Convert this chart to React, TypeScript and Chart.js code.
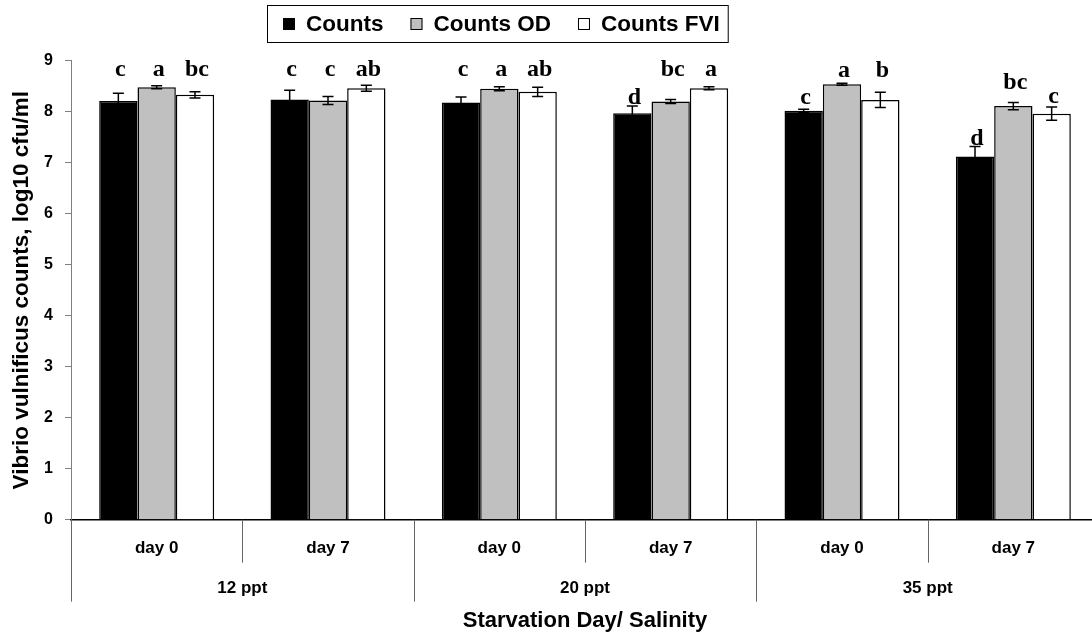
import React, { useEffect, useRef } from "react";
import { Chart, registerables } from "chart.js";

Chart.register(...registerables);

const dayLabels = ["day 0", "day 7", "day 0", "day 7", "day 0", "day 7"];
const salinityLabels = ["12 ppt", "20 ppt", "35 ppt"];
const seriesNames = ["Counts", "Counts OD", "Counts FVI"];
const seriesColors = ["#000000", "#c0c0c0", "#ffffff"];

const counts = [8.21, 8.24, 8.18, 7.97, 8.02, 7.12];
const countsOD = [8.48, 8.22, 8.45, 8.2, 8.54, 8.11];
const countsFVI = [8.33, 8.46, 8.39, 8.46, 8.23, 7.96];

const errCounts = [0.15, 0.18, 0.11, 0.14, 0.03, 0.2];
const errOD = [0.03, 0.08, 0.04, 0.04, 0.02, 0.07];
const errFVI = [0.06, 0.06, 0.09, 0.03, 0.15, 0.13];

const lettersCounts = ["c", "c", "c", "d", "c", "d"];
const lettersOD = ["a", "c", "a", "bc", "a", "bc"];
const lettersFVI = ["bc", "ab", "ab", "a", "b", "c"];

// baseline level of each significance letter, in axis units
const letterLevelCounts = [8.7, 8.7, 8.7, 8.16, 8.16, 7.34];
const letterLevelOD = [8.7, 8.7, 8.7, 8.7, 8.69, 8.44];
const letterLevelFVI = [8.7, 8.7, 8.7, 8.7, 8.69, 8.18];

const yTitle = "Vibrio vulnificus counts, log10 cfu/ml";
const xTitle = "Starvation Day/ Salinity";

const SANS = "'Liberation Sans', Arial, sans-serif";
const SERIF = "'Liberation Serif', 'Times New Roman', serif";

const errors = [errCounts, errOD, errFVI];
const letters = [lettersCounts, lettersOD, lettersFVI];
const letterLevels = [letterLevelCounts, letterLevelOD, letterLevelFVI];

const overlayPlugin = {
  id: "overlay",
  afterDatasetsDraw(chart: any) {
    const ctx = chart.ctx;
    const y = chart.scales.y;
    ctx.save();
    // error bars
    ctx.strokeStyle = "#000";
    ctx.lineWidth = 1.5;
    for (let d = 0; d < 3; d++) {
      const meta = chart.getDatasetMeta(d);
      const vals = chart.data.datasets[d].data as number[];
      meta.data.forEach((bar: any, i: number) => {
        const v = vals[i];
        const e = errors[d][i];
        const yt = y.getPixelForValue(v + e);
        const yb = y.getPixelForValue(v - e);
        const cw = 5.5;
        ctx.beginPath();
        ctx.moveTo(bar.x, yt);
        ctx.lineTo(bar.x, yb);
        ctx.moveTo(bar.x - cw, yt);
        ctx.lineTo(bar.x + cw, yt);
        ctx.moveTo(bar.x - cw, yb);
        ctx.lineTo(bar.x + cw, yb);
        ctx.stroke();
      });
    }
    // letters
    ctx.fillStyle = "#000";
    ctx.font = `bold 24px ${SERIF}`;
    ctx.textAlign = "center";
    ctx.textBaseline = "alphabetic";
    for (let d = 0; d < 3; d++) {
      const meta = chart.getDatasetMeta(d);
      meta.data.forEach((bar: any, i: number) => {
        ctx.fillText(letters[d][i], bar.x + 2, y.getPixelForValue(letterLevels[d][i]));
      });
    }
    ctx.restore();
  },
  afterDraw(chart: any) {
    const ctx = chart.ctx;
    const x = chart.scales.x;
    const area = chart.chartArea;
    const n = dayLabels.length;
    const step = x.getPixelForValue(1) - x.getPixelForValue(0);
    ctx.save();
    // dividers
    for (let i = 0; i <= n; i++) {
      const px = Math.round(x.getPixelForValue(0) - step / 2 + i * step) + 0.5;
      const long = i % 2 === 0;
      ctx.strokeStyle = "#666";
      ctx.lineWidth = 1;
      ctx.beginPath();
      ctx.moveTo(px, area.bottom);
      ctx.lineTo(px, area.bottom + (long ? 82 : 43));
      ctx.stroke();
    }
    // day labels
    ctx.fillStyle = "#000";
    ctx.font = `bold 17px ${SANS}`;
    ctx.textAlign = "center";
    ctx.textBaseline = "middle";
    dayLabels.forEach((lab, i) => {
      ctx.fillText(lab, x.getPixelForValue(i), area.bottom + 29);
    });
    salinityLabels.forEach((lab, j) => {
      const cx = (x.getPixelForValue(2 * j) + x.getPixelForValue(2 * j + 1)) / 2;
      ctx.fillText(lab, cx, area.bottom + 69);
    });
    // legend
    ctx.font = `bold 22.5px ${SANS}`;
    ctx.textBaseline = "middle";
    ctx.textAlign = "left";
    const left = 267;
    const top = 5.5;
    const h = 37;
    let cur = left + 16;
    const positions: number[] = [];
    seriesNames.forEach((name) => {
      positions.push(cur);
      cur += 23 + ctx.measureText(name).width + 27;
    });
    const right = cur - 27 + 8;
    ctx.strokeStyle = "#000";
    ctx.lineWidth = 1;
    ctx.strokeRect(left + 0.5, top, right - left, h);
    seriesNames.forEach((name, k) => {
      const sx = positions[k];
      ctx.fillStyle = seriesColors[k];
      ctx.fillRect(sx, 18, 12, 12);
      ctx.strokeStyle = "#000";
      ctx.strokeRect(sx + 0.5, 18.5, 11, 11);
      ctx.fillStyle = "#000";
      ctx.fillText(name, sx + 23, 25);
    });
    ctx.restore();
  },
};

export default function App() {
  const ref = useRef<HTMLCanvasElement | null>(null);
  useEffect(() => {
    if (!ref.current) return;
    const chart = new Chart(ref.current, {
      type: "bar",
      data: {
        labels: dayLabels,
        datasets: [counts, countsOD, countsFVI].map((vals, k) => ({
          label: seriesNames[k],
          data: vals,
          backgroundColor: seriesColors[k],
          borderColor: "#000",
          borderWidth: 1.5,
          categoryPercentage: 0.671,
          barPercentage: 1.0,
        })),
      },
      options: {
        responsive: false,
        animation: false,
        layout: { padding: { top: 60.7, right: 1, left: 0, bottom: 0 } },
        plugins: {
          legend: { display: false },
          tooltip: { enabled: false },
        },
        scales: {
          x: {
            type: "category",
            ticks: { display: false },
            grid: { display: false },
            border: { display: true, color: "#000", width: 1.5 },
            title: {
              display: true,
              text: xTitle,
              color: "#000",
              font: { family: SANS, size: 22, weight: "bold" },
              padding: { top: 0, bottom: 0 },
            },
            afterFit: (s: any) => {
              s.height = 114.3;
            },
          },
          y: {
            min: 0,
            max: 9,
            ticks: {
              stepSize: 1,
              color: "#000",
              font: { family: SANS, size: 16, weight: "bold" },
              padding: 12,
            },
            grid: {
              display: true,
              drawOnChartArea: false,
              drawTicks: true,
              tickLength: 6,
              color: "#808080",
            },
            border: { display: true, color: "#808080", width: 1 },
            title: {
              display: true,
              text: yTitle,
              color: "#000",
              font: { family: SANS, size: 22.5, weight: "bold" },
              padding: { top: 8, bottom: 0 },
            },
            afterFit: (s: any) => {
              s.width = 71;
            },
          },
        },
      } as any,
      plugins: [overlayPlugin],
    });
    return () => chart.destroy();
  }, []);
  return (
    <div
      style={{
        position: "fixed",
        left: 0,
        top: 0,
        width: 1092,
        height: 634,
        overflow: "hidden",
        background: "#fff",
      }}
    >
      <canvas ref={ref} width={1100} height={634} style={{ display: "block" }} />
    </div>
  );
}
